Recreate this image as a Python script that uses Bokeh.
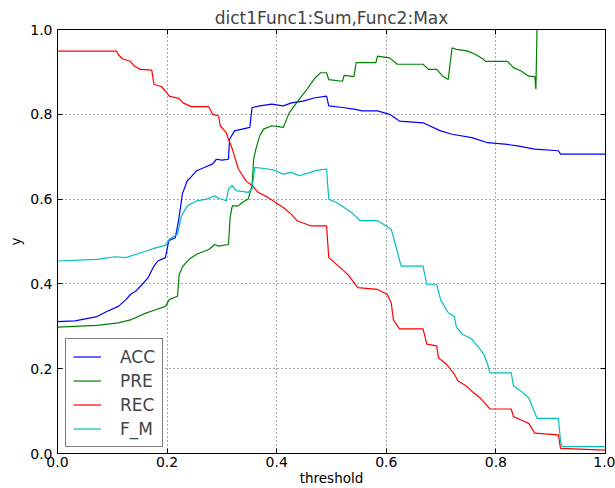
from bokeh.plotting import figure
from bokeh.models import FixedTicker, LinearAxis, Legend, LegendItem, Range1d
from bokeh.embed import file_html
from bokeh.resources import INLINE

title_text = "dict1Func1:Sum,Func2:Max"
x_label = "threshold"
y_label = "y"
x_ticks = [0.0, 0.2, 0.4, 0.6, 0.8, 1.0]
x_tick_labels = ["0.0", "0.2", "0.4", "0.6", "0.8", "1.0"]
y_ticks = [0.0, 0.2, 0.4, 0.6, 0.8, 1.0]
y_tick_labels = ["0.0", "0.2", "0.4", "0.6", "0.8", "1.0"]

acc_x = [0.0, 0.032, 0.072, 0.090, 0.111, 0.125, 0.133, 0.143, 0.154, 0.165, 0.176, 0.183,
         0.197, 0.203, 0.215, 0.221, 0.228, 0.237, 0.243, 0.254, 0.269, 0.283, 0.290, 0.300,
         0.312, 0.314, 0.323, 0.351, 0.355, 0.369, 0.391, 0.412, 0.427, 0.448, 0.470, 0.491,
         0.495, 0.520, 0.541, 0.556, 0.584, 0.606, 0.624, 0.667, 0.699, 0.720, 0.756, 0.785,
         0.821, 0.842, 0.871, 0.914, 0.918, 1.0]
acc_y = [0.311, 0.313, 0.323, 0.335, 0.347, 0.363, 0.375, 0.383, 0.398, 0.414, 0.442, 0.454,
         0.462, 0.502, 0.509, 0.550, 0.613, 0.644, 0.651, 0.667, 0.675, 0.683, 0.694, 0.692,
         0.694, 0.741, 0.761, 0.769, 0.816, 0.820, 0.824, 0.820, 0.827, 0.831, 0.839, 0.843,
         0.820, 0.816, 0.812, 0.808, 0.808, 0.800, 0.784, 0.780, 0.761, 0.753, 0.745, 0.733,
         0.729, 0.725, 0.718, 0.714, 0.706, 0.706]

pre_x = [0.0, 0.072, 0.111, 0.133, 0.161, 0.179, 0.197, 0.204, 0.219, 0.222, 0.229, 0.240,
         0.254, 0.276, 0.287, 0.294, 0.312, 0.315, 0.319, 0.330, 0.337, 0.348, 0.355, 0.358,
         0.362, 0.369, 0.376, 0.391, 0.412, 0.423, 0.441, 0.455, 0.470, 0.480, 0.491, 0.495,
         0.520, 0.523, 0.541, 0.545, 0.581, 0.584, 0.606, 0.620, 0.667, 0.677, 0.692, 0.703,
         0.713, 0.720, 0.728, 0.749, 0.763, 0.778, 0.781, 0.821, 0.832, 0.846, 0.860, 0.871,
         0.873, 0.875]
pre_y = [0.298, 0.302, 0.308, 0.315, 0.331, 0.339, 0.347, 0.363, 0.371, 0.422, 0.442, 0.458,
         0.470, 0.481, 0.493, 0.489, 0.493, 0.557, 0.584, 0.584, 0.592, 0.600, 0.632, 0.695,
         0.718, 0.749, 0.765, 0.773, 0.769, 0.804, 0.835, 0.859, 0.886, 0.898, 0.898, 0.882,
         0.878, 0.892, 0.889, 0.922, 0.922, 0.937, 0.933, 0.918, 0.918, 0.906, 0.906, 0.890,
         0.882, 0.957, 0.953, 0.949, 0.941, 0.929, 0.925, 0.925, 0.910, 0.902, 0.890, 0.889,
         0.859, 1.0]

rec_x = [0.0, 0.108, 0.111, 0.118, 0.133, 0.140, 0.151, 0.172, 0.176, 0.190, 0.197, 0.204,
         0.222, 0.229, 0.244, 0.276, 0.283, 0.294, 0.297, 0.308, 0.312, 0.319, 0.330, 0.344,
         0.355, 0.366, 0.384, 0.398, 0.412, 0.427, 0.437, 0.462, 0.491, 0.495, 0.513, 0.530,
         0.548, 0.584, 0.602, 0.609, 0.613, 0.624, 0.667, 0.674, 0.692, 0.695, 0.710, 0.724,
         0.731, 0.746, 0.756, 0.771, 0.785, 0.789, 0.828, 0.832, 0.846, 0.860, 0.871, 0.914,
         0.918, 1.0]
rec_y = [0.949, 0.949, 0.941, 0.931, 0.925, 0.914, 0.906, 0.904, 0.871, 0.865, 0.855, 0.843,
         0.837, 0.827, 0.818, 0.818, 0.800, 0.796, 0.773, 0.757, 0.741, 0.718, 0.671, 0.643,
         0.632, 0.616, 0.604, 0.592, 0.580, 0.564, 0.549, 0.537, 0.537, 0.462, 0.442, 0.422,
         0.391, 0.387, 0.375, 0.355, 0.315, 0.294, 0.294, 0.258, 0.254, 0.226, 0.210, 0.187,
         0.171, 0.159, 0.147, 0.131, 0.111, 0.105, 0.105, 0.087, 0.079, 0.071, 0.048, 0.044,
         0.012, 0.008]

fm_x = [0.0, 0.072, 0.104, 0.125, 0.143, 0.161, 0.179, 0.197, 0.204, 0.219, 0.226, 0.237,
        0.254, 0.272, 0.287, 0.294, 0.308, 0.312, 0.319, 0.326, 0.348, 0.355, 0.360, 0.384,
        0.398, 0.412, 0.427, 0.441, 0.462, 0.470, 0.491, 0.495, 0.509, 0.523, 0.537, 0.552,
        0.584, 0.599, 0.609, 0.620, 0.627, 0.667, 0.674, 0.692, 0.699, 0.713, 0.724, 0.728,
        0.738, 0.756, 0.771, 0.778, 0.785, 0.789, 0.828, 0.832, 0.846, 0.860, 0.875, 0.914,
        0.918, 0.921, 1.0]
fm_y = [0.454, 0.458, 0.464, 0.462, 0.470, 0.477, 0.485, 0.491, 0.505, 0.517, 0.560, 0.584,
        0.596, 0.600, 0.608, 0.602, 0.596, 0.624, 0.632, 0.620, 0.616, 0.624, 0.675, 0.671,
        0.667, 0.659, 0.663, 0.655, 0.663, 0.667, 0.671, 0.600, 0.592, 0.580, 0.568, 0.549,
        0.549, 0.537, 0.529, 0.477, 0.442, 0.442, 0.398, 0.398, 0.363, 0.332, 0.323, 0.298,
        0.282, 0.270, 0.246, 0.234, 0.210, 0.190, 0.190, 0.160, 0.147, 0.131, 0.083, 0.083,
        0.028, 0.016, 0.016]

series_names = ["ACC", "PRE", "REC", "F_M"]
series_colors = ["#0000ff", "#008000", "#ff0000", "#00bfbf"]
series_data = [(acc_x, acc_y), (pre_x, pre_y), (rec_x, rec_y), (fm_x, fm_y)]

FONT = "DejaVu Sans"

p = figure(width=615, height=488, output_backend="svg", toolbar_location=None,
           x_range=Range1d(0, 1), y_range=Range1d(0, 1),
           min_border_left=57, min_border_right=10, min_border_top=29, min_border_bottom=35)
p.title.text = title_text
p.title.align = "center"
p.title.text_font = FONT
p.title.text_font_size = "17px"
p.title.text_font_style = "normal"
p.title.standoff = 4
p.outline_line_color = "black"
p.outline_line_width = 1
p.outline_line_alpha = 1.0

renderers = []
for (xs, ys), c in zip(series_data, series_colors):
    r = p.line(xs, ys, line_color=c, line_width=1.2)
    renderers.append(r)

xt = FixedTicker(ticks=x_ticks)
yt = FixedTicker(ticks=y_ticks)

def style_axis(ax, ticker, labels, ticks, show_labels=True):
    ax.ticker = ticker
    ax.major_tick_in = 5
    ax.major_tick_out = 0
    ax.minor_tick_in = 0
    ax.minor_tick_out = 0
    ax.axis_line_color = "black"
    ax.major_tick_line_color = "black"
    ax.major_label_text_font = FONT
    if show_labels:
        ax.major_label_overrides = {t: l for t, l in zip(ticks, labels)}
        ax.major_label_text_color = "black"
        ax.major_label_text_font_size = "14px"
        ax.major_label_standoff = 3
    else:
        ax.major_label_text_color = None
        ax.major_label_text_font_size = "1px"
        ax.major_label_standoff = 0

xa = p.xaxis[0]
ya = p.yaxis[0]
style_axis(xa, xt, x_tick_labels, x_ticks)
style_axis(ya, yt, y_tick_labels, y_ticks)
ya.major_label_standoff = 5
xa.axis_label = x_label
ya.axis_label = y_label
for ax in (xa, ya):
    ax.axis_label_text_font = FONT
    ax.axis_label_text_font_size = "13.5px"
    ax.axis_label_text_font_style = "normal"
    ax.axis_label_text_color = "black"
xa.axis_label_standoff = 0
ya.axis_label_standoff = 3

top_ax = LinearAxis()
right_ax = LinearAxis()
style_axis(top_ax, xt, x_tick_labels, x_ticks, show_labels=False)
style_axis(right_ax, yt, y_tick_labels, y_ticks, show_labels=False)
p.add_layout(top_ax, "above")
p.add_layout(right_ax, "right")

p.xgrid.ticker = xt
p.ygrid.ticker = yt
for g in (p.xgrid[0], p.ygrid[0]):
    g.grid_line_color = "black"
    g.grid_line_alpha = 0.7
    g.grid_line_dash = "1 3"
    g.grid_line_width = 1

legend = Legend(items=[LegendItem(label=n, renderers=[r]) for n, r in zip(series_names, renderers)],
                location=(8, 6))
legend.label_text_font = FONT
legend.label_text_font_size = "17px"
legend.glyph_width = 28
legend.glyph_height = 21
legend.label_height = 21
legend.label_standoff = 19
legend.spacing = 3
legend.padding = 7
legend.margin = 0
legend.border_line_color = "black"
legend.border_line_width = 1.5
legend.background_fill_color = "white"
legend.background_fill_alpha = 1.0
p.add_layout(legend, "center")

open("out.html", "w").write(file_html(p, INLINE))
